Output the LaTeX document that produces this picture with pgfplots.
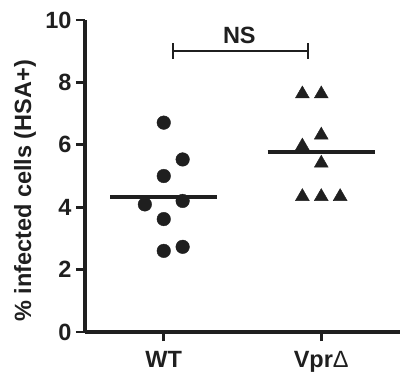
\documentclass[border=0pt]{standalone}
\usepackage{pgfplots}
\pgfplotsset{compat=1.18}
\usepackage{fontspec}
\setmainfont{Liberation Sans}
\definecolor{ink}{gray}{0.12}
\newcommand{\lbl}{\bfseries\fontsize{23.5}{24}\selectfont}
\begin{document}
\begin{tikzpicture}
\begin{axis}[
  at={(0,0)}, anchor=south west,
  scale only axis, width=315pt, height=312pt,
  xmin=0.5, xmax=2.5, ymin=0, ymax=10,
  axis lines=left,
  axis line style={-, draw=ink},
  every outer x axis line/.append style={line width=3.2pt},
  every outer y axis line/.append style={line width=3.2pt},
  xtick={1,2}, xticklabels={WT, Vpr{\mdseries Δ}},
  ytick={0,2,4,6,8,10},
  tick align=outside, major tick length=9pt,
  every tick/.style={line width=2.8pt, draw=ink},
  /pgf/number format/assume math mode=true,
  yticklabel style={font=\lbl, text=ink, xshift=-1pt},
  xticklabel style={font=\lbl, text=ink, yshift=-7pt},
  ylabel={\% infected cells (HSA+)},
  ylabel style={at={(axis description cs:-0.19,0.452)}, anchor=center, font=\lbl, text=ink},
  clip=false,
]
% WT
\addplot[only marks, mark=*, mark size=6.8pt, ink] coordinates {
 (1,6.71) (1.12,5.53) (1,5.0) (0.88,4.09) (1.12,4.2) (1,3.62) (1,2.60) (1.12,2.73)};
% Vpr delta
\addplot[only marks, mark=triangle*, mark size=8pt, ink] coordinates {
 (1.88,7.63) (2,7.63) (2,6.31) (1.88,5.96) (2,5.41) (1.88,4.34) (2,4.34) (2.12,4.34)};
% means
\addplot[line width=3.8pt, ink] coordinates {(0.66,4.32) (1.34,4.32)};
\addplot[line width=3.8pt, ink] coordinates {(1.66,5.78) (2.34,5.78)};
% NS bracket
\draw[line width=2pt, ink] (axis cs:1.057,8.75) -- (axis cs:1.057,9.25);
\draw[line width=2pt, ink] (axis cs:1.915,8.75) -- (axis cs:1.915,9.25);
\draw[line width=2pt, ink] (axis cs:1.057,9.0) -- (axis cs:1.915,9.0);
\node[font=\lbl, text=ink] at (axis cs:1.48,9.52) {NS};
\end{axis}
\pgfresetboundingbox
\useasboundingbox (-85pt,-46pt) rectangle (318pt,332pt);
\end{tikzpicture}
\end{document}
